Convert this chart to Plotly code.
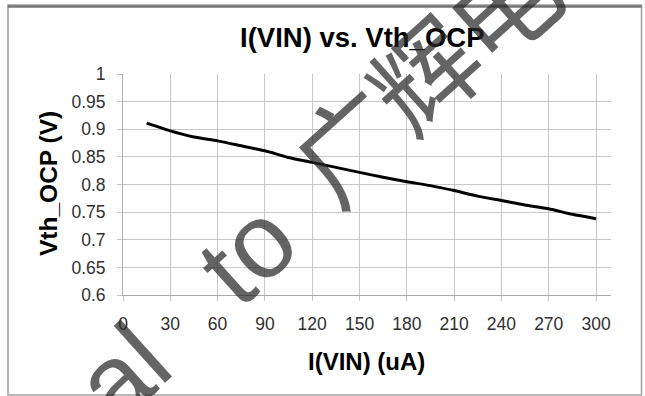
import plotly.graph_objects as go

# ---- data ----
i_vin = [15, 30, 45, 60, 75, 90, 105, 120, 135, 150, 165, 180, 195, 210, 225, 240, 255, 270, 285, 300]
vth_ocp = [0.911, 0.897, 0.886, 0.879, 0.870, 0.861, 0.849, 0.840, 0.831, 0.822, 0.813, 0.805, 0.798, 0.789, 0.779, 0.771, 0.763, 0.756, 0.746, 0.738]

x_ticks = [0, 30, 60, 90, 120, 150, 180, 210, 240, 270, 300]
y_ticks = [0.6, 0.65, 0.7, 0.75, 0.8, 0.85, 0.9, 0.95, 1.0]
y_tick_labels = ["0.6", "0.65", "0.7", "0.75", "0.8", "0.85", "0.9", "0.95", "1"]

title_text = "I(VIN) vs. Vth_OCP"
x_title = "I(VIN) (uA)"
y_title = "Vth_OCP (V)"

# watermark pieces (visible fragment of the diagonal stamp)
wm_chars = ["a", "l", "t", "o", "广", "辉", "电"]

W, H = 645, 396
ML, MR, MT, MB = 123, 34, 74, 101
PW, PH = W - ML - MR, H - MT - MB


def px2paper(px, py):
    return (px - ML) / PW, (H - MB - py) / PH


fig = go.Figure()
fig.add_trace(go.Scatter(
    x=i_vin, y=vth_ocp, mode="lines",
    line=dict(color="#000000", width=3, shape="spline", smoothing=0.6),
    showlegend=False, hoverinfo="skip",
))

grid_c = "#c6c6c6"
tick_font = dict(family="Liberation Sans, Arial, sans-serif", size=17.5, color="#303030")

fig.update_xaxes(
    range=[0, 309.5], tickmode="array", tickvals=x_ticks,
    showgrid=True, gridcolor=grid_c, gridwidth=1,
    ticks="outside", ticklen=5, tickcolor=grid_c, tickwidth=1,
    showline=True, linecolor="#a8a8a8", linewidth=1,
    zeroline=False, tickfont=tick_font, ticklabelstandoff=8,
)
fig.update_yaxes(
    range=[0.6, 1.0], tickmode="array", tickvals=y_ticks, ticktext=y_tick_labels,
    showgrid=True, gridcolor=grid_c, gridwidth=1,
    ticks="outside", ticklen=5, tickcolor=grid_c, tickwidth=1,
    showline=True, linecolor="#b0b0b0", linewidth=1,
    zeroline=False, tickfont=tick_font, ticklabelstandoff=8,
)

annos = []
tx, ty = px2paper(362, 38)
annos.append(dict(text=title_text, x=tx, y=ty, xref="paper", yref="paper",
                  showarrow=False, xanchor="center", yanchor="middle",
                  font=dict(family="Liberation Sans, Arial, sans-serif", size=27.5, color="#000000", weight="bold")))
ax, ay = px2paper(366, 361)
annos.append(dict(text=x_title, x=ax, y=ay, xref="paper", yref="paper",
                  showarrow=False, xanchor="center", yanchor="middle",
                  font=dict(family="Liberation Sans, Arial, sans-serif", size=24, color="#000000", weight="bold")))
bx, by = px2paper(48, 184)
annos.append(dict(text=y_title, x=bx, y=by, xref="paper", yref="paper", textangle=-90,
                  showarrow=False, xanchor="center", yanchor="middle",
                  font=dict(family="Liberation Sans, Arial, sans-serif", size=24.5, color="#000000", weight="bold")))

# watermark positions (pixel centres in the picture)
wm_pos = [(113, 381), (144, 352), (225, 274), (257, 242), (345, 142), (421, 71), (500, 2)]
for ch, (px, py) in zip(wm_chars, wm_pos):
    fx, fy = px2paper(px, py)
    fam = "Noto Sans CJK SC" if ord(ch) > 255 else "Liberation Sans, Arial, sans-serif"
    annos.append(dict(text=ch, x=fx, y=fy, xref="paper", yref="paper", textangle=-42,
                      showarrow=False, xanchor="center", yanchor="middle",
                      font=dict(family=fam, size=106, color="rgba(40,40,40,0.72)")))

fig.update_layout(annotations=annos)

# outer chart frame
x0, y0 = px2paper(8, 395)
x1, y1 = px2paper(641.5, 5)
xt, yt = px2paper(0, 6.5)
shapes = [
    dict(type="rect", xref="paper", yref="paper", x0=x0, x1=x1, y0=y0, y1=y1,
         line=dict(color="#a0a0a0", width=1.5), fillcolor="rgba(0,0,0,0)", layer="above"),
    dict(type="line", xref="paper", yref="paper", x0=x0, x1=x1, y0=yt, y1=yt,
         line=dict(color="#747474", width=2.5), layer="above"),
]

fig.update_layout(
    width=W, height=H,
    margin=dict(l=ML, r=MR, t=MT, b=MB, pad=0),
    paper_bgcolor="#ffffff", plot_bgcolor="#ffffff",
    shapes=shapes, showlegend=False,
)

fig.write_html(
    "out.html",
    config={"displayModeBar": False},
    post_script="document.body.style.margin='0';document.body.style.padding='0';document.body.style.overflow='hidden';",
)
